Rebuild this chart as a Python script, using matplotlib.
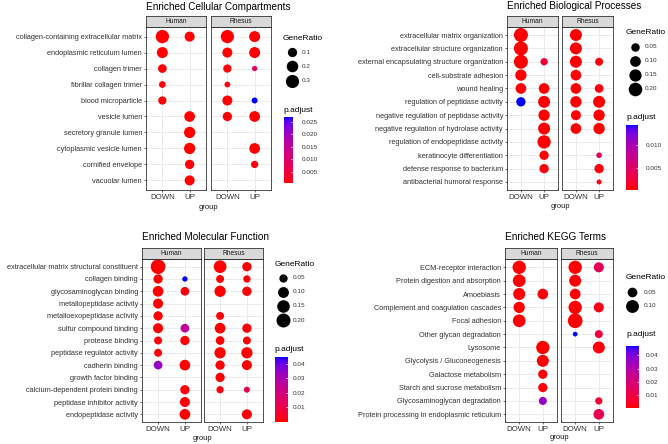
import numpy as np
import matplotlib
matplotlib.use('Agg')
import matplotlib.pyplot as plt
from matplotlib.colors import LinearSegmentedColormap, Normalize
from matplotlib.cm import ScalarMappable

plt.rcParams['font.family'] = ['Liberation Sans', 'DejaVu Sans']

W, H = 668, 444

species = ['Human', 'Rhesus']
groups = ['DOWN', 'UP']
# columns in every table below: Human-DOWN, Human-UP, Rhesus-DOWN, Rhesus-UP

# ---- Enriched Cellular Compartments
cc_terms = ['collagen-containing extracellular matrix', 'endoplasmic reticulum lumen', 'collagen trimer',
            'fibrillar collagen trimer', 'blood microparticle', 'vesicle lumen', 'secretory granule lumen',
            'cytoplasmic vesicle lumen', 'cornified envelope', 'vacuolar lumen']
cc_ratio = [[0.31, 0.127, 0.30, 0.172],
            [0.172, None, 0.127, 0.172],
            [0.08, None, 0.069, 0.03],
            [0.039, None, 0.031, None],
            [0.069, None, 0.127, 0.032],
            [None, 0.158, 0.10, 0.158],
            [None, 0.187, None, None],
            [None, 0.187, None, 0.158],
            [None, 0.10, None, 0.0475],
            [None, 0.127, None, None]]
cc_padj = [[4e-4, 5e-4, 4e-4, 6e-4],
           [5e-4, None, 5e-4, 5e-4],
           [6e-4, None, 7e-4, 0.008],
           [8e-4, None, 9e-4, None],
           [6e-4, None, 5e-4, 0.0268],
           [None, 4e-4, 6e-4, 5e-4],
           [None, 4e-4, None, None],
           [None, 4e-4, None, 5e-4],
           [None, 6e-4, None, 0.001],
           [None, 5e-4, None, None]]

# ---- Enriched Biological Processes
bp_terms = ['extracellular matrix organization', 'extracellular structure organization',
            'external encapsulating structure organization', 'cell-substrate adhesion', 'wound healing',
            'regulation of peptidase activity', 'negative regulation of peptidase activity',
            'negative regulation of hydrolase activity', 'regulation of endopeptidase activity',
            'keratinocyte differentiation', 'defense response to bacterium', 'antibacterial humoral response']
bp_ratio = [[0.22, None, 0.14, None],
            [0.22, None, 0.14, None],
            [0.22, 0.033, 0.14, 0.042],
            [0.118, None, 0.10, None],
            [0.10, 0.10, 0.10, 0.054],
            [0.066, 0.14, 0.118, 0.14],
            [None, 0.118, 0.082, 0.118],
            [None, 0.14, 0.10, 0.118],
            [None, 0.19, None, None],
            [None, 0.066, None, 0.021],
            [None, 0.066, None, 0.066],
            [None, None, None, 0.02]]
bp_padj = [[3e-4, None, 3e-4, None],
           [3e-4, None, 3e-4, None],
           [3e-4, 0.0022, 3e-4, 6e-4],
           [3e-4, None, 3e-4, None],
           [3e-4, 4e-4, 3e-4, 7e-4],
           [0.0144, 3e-4, 3e-4, 3e-4],
           [None, 3e-4, 3e-4, 3e-4],
           [None, 3e-4, 3e-4, 3e-4],
           [None, 3e-4, None, None],
           [None, 4e-4, None, 0.0048],
           [None, 5e-4, None, 6e-4],
           [None, None, None, 9e-4]]

# ---- Enriched Molecular Function
mf_terms = ['extracellular matrix structural constituent', 'collagen binding', 'glycosaminoglycan binding',
            'metallopeptidase activity', 'metalloexopeptidase activity', 'sulfur compound binding',
            'protease binding', 'peptidase regulator activity', 'cadherin binding', 'growth factor binding',
            'calcium-dependent protein binding', 'peptidase inhibitor activity', 'endopeptidase activity']
mf_ratio = [[0.23, None, 0.154, 0.066],
            [0.066, 0.03, 0.046, 0.039],
            [0.096, 0.056, 0.111, 0.066],
            [0.08, None, None, None],
            [0.066, None, 0.046, None],
            [0.08, 0.056, 0.096, 0.066],
            [0.046, 0.066, 0.056, 0.046],
            [0.046, None, 0.111, 0.111],
            [0.056, 0.096, 0.066, 0.08],
            [None, None, 0.066, None],
            [None, 0.066, 0.039, 0.031],
            [None, 0.08, None, None],
            [None, 0.096, None, 0.08]]
mf_padj = [[1e-4, None, 1e-4, 2e-4],
           [2e-4, 0.0446, 3e-4, 4e-4],
           [2e-4, 0.0012, 2e-4, 3e-4],
           [2e-4, None, None, None],
           [3e-4, None, 6e-4, None],
           [2e-4, 0.025, 2e-4, 3e-4],
           [5e-4, 3e-4, 4e-4, 6e-4],
           [9e-4, None, 2e-4, 2e-4],
           [0.034, 2e-4, 3e-4, 3e-4],
           [None, None, 3e-4, None],
           [None, 6e-4, 1.2e-3, 0.0095],
           [None, 2e-4, None, None],
           [None, 2e-4, None, 3e-4]]

# ---- Enriched KEGG Terms
kegg_terms = ['ECM-receptor interaction', 'Protein digestion and absorption', 'Amoebiasis',
              'Complement and coagulation cascades', 'Focal adhesion', 'Other glycan degradation', 'Lysosome',
              'Glycolysis / Gluconeogenesis', 'Galactose metabolism', 'Starch and sucrose metabolism',
              'Glycosaminoglycan degradation', 'Protein processing in endoplasmic reticulum']
kegg_ratio = [[0.109, None, 0.109, 0.054],
              [0.097, None, 0.084, None],
              [0.084, 0.063, 0.063, None],
              [0.072, None, 0.109, 0.054],
              [0.097, None, 0.14, None],
              [None, None, 0.02, 0.033],
              [None, 0.109, None, 0.084],
              [None, 0.084, None, None],
              [None, 0.045, None, None],
              [None, 0.045, None, None],
              [None, 0.033, None, 0.028],
              [None, None, None, 0.063]]
kegg_padj = [[6e-4, None, 6e-4, 0.013],
             [6e-4, None, 7e-4, None],
             [8e-4, 0.0015, 9e-4, None],
             [7e-4, None, 6e-4, 0.0025],
             [8e-4, None, 6e-4, None],
             [None, None, 0.047, 0.009],
             [None, 6e-4, None, 0.0015],
             [None, 7e-4, None, None],
             [None, 0.0012, None, None],
             [None, 0.0014, None, None],
             [None, 0.036, None, 0.007],
             [None, None, None, 0.013]]


# red -> blue gradient interpolated in Lab, like ggplot
M_RGB = np.array([[0.4124, 0.3576, 0.1805], [0.2126, 0.7152, 0.0722], [0.0193, 0.1192, 0.9505]])
WHITE = np.array([0.95047, 1.0, 1.08883])


def to_lab(rgb):
    c = np.asarray(rgb, float)
    lin = np.where(c <= 0.04045, c / 12.92, ((c + 0.055) / 1.055) ** 2.4)
    xyz = M_RGB @ lin / WHITE
    f = np.where(xyz > 0.008856, np.cbrt(xyz), 7.787 * xyz + 16 / 116)
    return np.array([116 * f[1] - 16, 500 * (f[0] - f[1]), 200 * (f[1] - f[2])])


def from_lab(lab):
    fy = (lab[0] + 16) / 116
    f = np.array([fy + lab[1] / 500, fy, fy - lab[2] / 200])
    xyz = np.where(f ** 3 > 0.008856, f ** 3, (f - 16 / 116) / 7.787) * WHITE
    lin = np.clip(np.linalg.inv(M_RGB) @ xyz, 0, 1)
    c = np.where(lin <= 0.0031308, 12.92 * lin, 1.055 * lin ** (1 / 2.4) - 0.055)
    return np.clip(c, 0, 1)


lo, hi = to_lab((1, 0, 0)), to_lab((0, 0, 1))
cmap = LinearSegmentedColormap.from_list('padj', [from_lab(lo + t * (hi - lo)) for t in np.linspace(0, 1, 64)])

fig = plt.figure(figsize=(W / 100, H / 100), dpi=100)
fig.patch.set_facecolor('white')


def px_axes(x0, y0, x1, y1):
    return fig.add_axes([x0 / W, 1 - y1 / H, (x1 - x0) / W, (y1 - y0) / H])


def dot_px(r, rmin, rmax, dmin, dmax):
    t = np.clip((np.asarray(r, float) - rmin) / (rmax - rmin), 0, 1)
    return dmin + (dmax - dmin) * np.sqrt(t)


def to_arr(tab):
    return np.array([[np.nan if v is None else v for v in row] for row in tab], float)


texts = []   # (x, y, str, kwargs) drawn on overlay at the end
keys = []    # legend keys (x, y, diameter)


def draw_panel(title, terms, ratio, padj, facets, top, bottom, strip_top, dsize,
               breaks, bfmt, cticks, cfmt, leg, title_y, group_y):
    r = to_arr(ratio)
    p = to_arr(padj)
    rmin, rmax = np.nanmin(r), np.nanmax(r)
    norm = Normalize(np.nanmin(p), np.nanmax(p))
    n = len(terms)
    for k, (x0, x1) in enumerate(facets):
        ax = px_axes(x0, top, x1, bottom)
        for j in range(2):
            col = r[:, 2 * k + j]
            ok = ~np.isnan(col)
            d = dot_px(col[ok], rmin, rmax, *dsize)
            ax.scatter(np.full(ok.sum(), j), np.arange(n)[ok], s=(d * 0.72) ** 2,
                       c=p[ok, 2 * k + j], cmap=cmap, norm=norm, linewidths=0, zorder=3, clip_on=False)
        ax.set_xlim(-0.6, 1.6)
        ax.set_ylim(n - 1 + 0.6, -0.6)
        ax.set_xticks([0, 1])
        ax.set_xticklabels(groups)
        ax.set_yticks(range(n))
        ax.set_yticklabels(terms)
        ax.grid(color='#EBEBEB', lw=0.7)
        ax.set_axisbelow(True)
        for s in ax.spines.values():
            s.set_color('#333333')
            s.set_linewidth(0.6)
        ax.tick_params(length=1.6, width=0.5, color='#333333', pad=1.2)
        ax.tick_params(axis='x', labelsize=5.7, labelcolor='#333333')
        ax.tick_params(axis='y', labelsize=5.3, labelcolor='#333333')
        if k == 1:
            ax.tick_params(axis='y', left=False, labelleft=False)
        sax = px_axes(x0, strip_top, x1, top)
        sax.set_facecolor('#D9D9D9')
        sax.set_xticks([])
        sax.set_yticks([])
        for s in sax.spines.values():
            s.set_color('#333333')
            s.set_linewidth(0.6)
        sax.text(0.5, 0.5, species[k], ha='center', va='center', fontsize=4.8, color='#1A1A1A',
                 transform=sax.transAxes)

    texts.append((facets[0][0], title_y, title, dict(fontsize=7.2, ha='left', va='center', color='black')))
    texts.append(((facets[0][0] + facets[1][1]) / 2, group_y, 'group',
                  dict(fontsize=5.5, ha='center', va='center', color='#1A1A1A')))

    # size legend
    texts.append((leg['x'], leg['ty'], 'GeneRatio', dict(fontsize=6.0, ha='left', va='center', color='black')))
    for b, yk in zip(breaks, leg['ky']):
        keys.append((leg['kx'], yk, float(dot_px(b, rmin, rmax, *dsize))))
        texts.append((leg['lx'], yk, bfmt.format(b), dict(fontsize=4.6, ha='left', va='center', color='#333333')))

    # colour legend
    texts.append((leg['x'], leg['py'], 'p.adjust', dict(fontsize=6.0, ha='left', va='center', color='black')))
    cax = px_axes(leg['cx0'], leg['cy0'], leg['cx1'], leg['cy1'])
    cb = fig.colorbar(ScalarMappable(norm=norm, cmap=cmap), cax=cax)
    cb.outline.set_visible(False)
    cb.set_ticks(cticks)
    cb.set_ticklabels([cfmt.format(v) for v in cticks])
    cax.tick_params(direction='in', length=1.5, width=0.5, color='white', labelsize=4.6,
                    labelcolor='#333333', pad=leg['pad'])


draw_panel('Enriched Cellular Compartments', cc_terms, cc_ratio, cc_padj,
           [(146, 206), (211, 271)], 27, 190, 16, (5.3, 13.3),
           [0.1, 0.2, 0.3], '{:.1f}', [0.005, 0.010, 0.015, 0.020, 0.025], '{:.3f}',
           dict(x=283, ty=39, kx=291.5, ky=[52.5, 66.5, 81], lx=302, py=110,
                cx0=283.5, cy0=117, cx1=293, cy1=183.5, pad=6.5), 7, 207)

draw_panel('Enriched Biological Processes', bp_terms, bp_ratio, bp_padj,
           [(507, 558), (562, 613)], 27, 190, 16.5, (5.0, 14.0),
           [0.05, 0.10, 0.15, 0.20], '{:.2f}', [0.005, 0.010], '{:.3f}',
           dict(x=626, ty=32, kx=635, ky=[47, 61, 75, 89], lx=645, py=117,
                cx0=626, cy0=125, cx1=638, cy1=190, pad=5.5), 6, 206)

draw_panel('Enriched Molecular Function', mf_terms, mf_ratio, mf_padj,
           [(142, 201), (204, 263)], 259.3, 421.7, 248, (5.3, 14.7),
           [0.05, 0.10, 0.15, 0.20], '{:.2f}', [0.01, 0.02, 0.03, 0.04], '{:.2f}',
           dict(x=274.5, ty=264, kx=283, ky=[277.5, 291.5, 305.5, 320], lx=292.5, py=349,
                cx0=275, cy0=357, cx1=288, cy1=421.5, pad=3.5), 237, 438)

draw_panel('Enriched KEGG Terms', kegg_terms, kegg_ratio, kegg_padj,
           [(505, 557), (561, 613)], 259.3, 422.3, 248, (4.7, 14.7),
           [0.05, 0.10], '{:.2f}', [0.01, 0.02, 0.03, 0.04], '{:.2f}',
           dict(x=626, ty=277.5, kx=632, ky=[292, 305.5], lx=643.5, py=334.5,
                cx0=626, cy0=346, cx1=639, cy1=407.5, pad=4.5), 237, 437)

over = fig.add_axes([0, 0, 1, 1])
over.set_xlim(0, W)
over.set_ylim(H, 0)
over.axis('off')
for x, y, d in keys:
    over.scatter([x], [y], s=(d * 0.72) ** 2, color='black', linewidths=0)
for x, y, t, kw in texts:
    over.text(x, y, t, **kw)

fig.savefig('out.png', dpi=100, facecolor='white')
